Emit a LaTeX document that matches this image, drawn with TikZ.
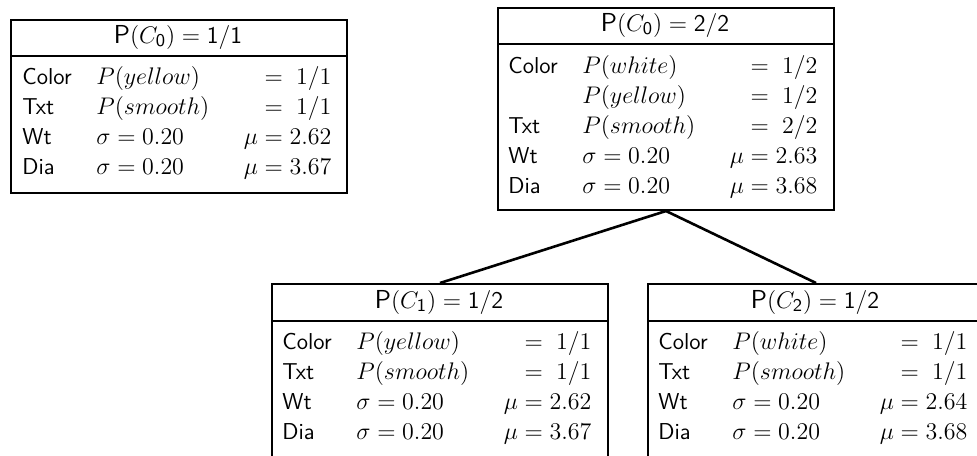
\documentclass[tikz,border=0pt]{standalone}
\usepackage{array}
\begin{document}
\tikzset{
  clsbox/.style={draw, line width=1pt, minimum width=168pt, anchor=north west, inner sep=0pt},
  clstitle/.style={anchor=center, inner sep=0pt, font=\fontsize{13}{15}\selectfont},
  clsbody/.style={anchor=north west, inner sep=0pt, font=\fontsize{13}{15}\selectfont},
  sepline/.style={line width=1pt},
  link/.style={line width=1.3pt}
}
% attribute labels in sans serif, slightly smaller than the formulas
\newcommand\lbl[1]{{\fontsize{11.5}{15}\selectfont\sffamily #1}}
% fixed row height of 15pt
\newcommand\rs{\rule[-4.5pt]{0pt}{15pt}}
\newcommand\attrtab[1]{%
  {\renewcommand\arraystretch{0}%
  \begin{tabular}{@{}w{l}{37pt}@{}w{l}{57.5pt}@{}w{r}{60pt}@{}}#1\end{tabular}}}
\newcommand\ptitle[2]{\textsf{P}$(C_{\mathsf{#1}}) = \mathsf{#2}$}
\begin{tikzpicture}[x=0.5pt,y=-0.5pt]
  \useasboundingbox (0,0) rectangle (977,455);
  \fill[white] (0,0) rectangle (977,455);

  % single-object concept (left)
  \node[clsbox, minimum height=86.5pt] (A) at (10,19) {};
  \draw[sepline] (10,56) -- (346,56);
  \node[clstitle] (At) at (178,37) {\ptitle{0}{1/1}};
  \node[clsbody] (Ab) at (22,63) {\attrtab{%
    \rs\lbl{Color} & $P(yellow)$ & $=\;1/1$\\
    \rs\lbl{Txt}   & $P(smooth)$ & $=\;1/1$\\
    \rs\lbl{Wt}    & $\sigma = 0.20$ & $\mu = 2.62$\\
    \rs\lbl{Dia}   & $\sigma = 0.20$ & $\mu = 3.67$}};

  % root concept after the second object
  \node[clsbox, minimum height=101pt] (B) at (497,7) {};
  \draw[sepline] (497,44) -- (833,44);
  \node[clstitle] (Bt) at (665,25) {\ptitle{0}{2/2}};
  \node[clsbody] (Bb) at (508,52) {\attrtab{%
    \rs\lbl{Color} & $P(white)$ & $=\;1/2$\\
    \rs            & $P(yellow)$ & $=\;1/2$\\
    \rs\lbl{Txt}   & $P(smooth)$ & $=\;2/2$\\
    \rs\lbl{Wt}    & $\sigma = 0.20$ & $\mu = 2.63$\\
    \rs\lbl{Dia}   & $\sigma = 0.20$ & $\mu = 3.68$}};

  % child concepts
  \node[clsbox, minimum height=125pt] (C) at (271,283) {};
  \draw[sepline] (271,321) -- (607,321);
  \node[clstitle] (Ct) at (439,302) {\ptitle{1}{1/2}};
  \node[clsbody] (Cb) at (282,328) {\attrtab{%
    \rs\lbl{Color} & $P(yellow)$ & $=\;1/1$\\
    \rs\lbl{Txt}   & $P(smooth)$ & $=\;1/1$\\
    \rs\lbl{Wt}    & $\sigma = 0.20$ & $\mu = 2.62$\\
    \rs\lbl{Dia}   & $\sigma = 0.20$ & $\mu = 3.67$}};

  \node[clsbox, minimum height=125pt] (D) at (647,283) {};
  \draw[sepline] (647,321) -- (983,321);
  \node[clstitle] (Dt) at (815,302) {\ptitle{2}{1/2}};
  \node[clsbody] (Db) at (658,328) {\attrtab{%
    \rs\lbl{Color} & $P(white)$ & $=\;1/1$\\
    \rs\lbl{Txt}   & $P(smooth)$ & $=\;1/1$\\
    \rs\lbl{Wt}    & $\sigma = 0.20$ & $\mu = 2.64$\\
    \rs\lbl{Dia}   & $\sigma = 0.20$ & $\mu = 3.68$}};

  \draw[link] (B.south) -- (C.north);
  \draw[link] (B.south) -- (D.north);
\end{tikzpicture}
\end{document}
